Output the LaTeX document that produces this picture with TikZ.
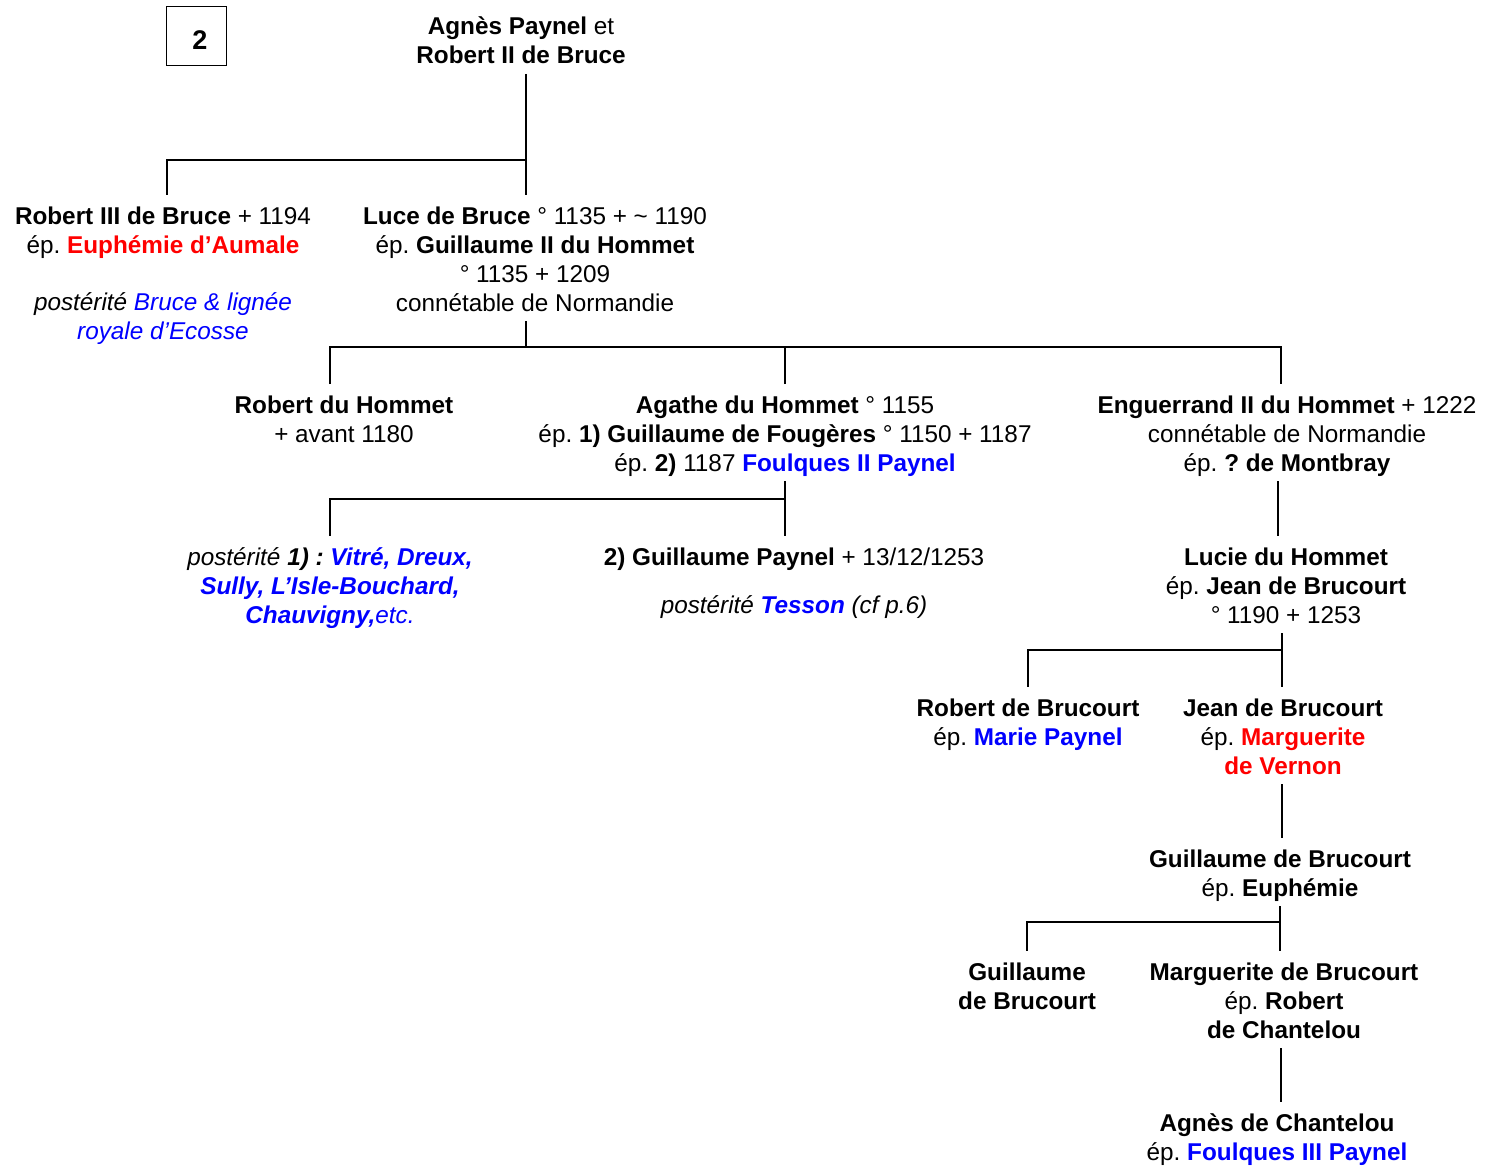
\documentclass[tikz,border=0pt]{standalone}
\usepackage{fontspec}
\setmainfont{Liberation Sans}
\frenchspacing
\newcommand{\topst}{\rule{0pt}{25pt}}
\newcommand{\botst}{\rule[-6pt]{0pt}{6pt}}
\tikzset{
  person/.style={align=center, anchor=north, inner sep=0pt, outer sep=0pt, outer ysep=4pt,
    font=\fontsize{24.3}{29}\selectfont\frenchspacing},
  conn/.style={line width=2pt},
  numbox/.style={draw, line width=1pt, minimum width=60pt, minimum height=59pt, inner sep=0pt},
  numtext/.style={inner sep=0pt, font=\fontsize{27}{30}\selectfont\bfseries}
}
\begin{document}
\begin{tikzpicture}[x=1pt,y=-1pt]
\fill[white] (0,0) rectangle (1498,1166);
\useasboundingbox (0,0) rectangle (1498,1166);

\node[numbox] (num) at (196,36.5) {};
\node[numtext] (numtxt) at ([xshift=4pt,yshift=-4pt]num.center) {2};

\node[person] (root) at (521,6) {\topst\textbf{Agnès Paynel} et\\\textbf{Robert II de Bruce}\botst};
\node[person] (rob3) at (163,195) {\topst\textbf{Robert III de Bruce} + 1194\\ép. \textcolor{red}{\textbf{Euphémie d’Aumale}}\\[28pt]\textit{postérité \textcolor{blue}{Bruce \& lignée}}\\\textcolor{blue}{\textit{royale d’Ecosse}}\botst};
\node[person] (luce) at (535,195) {\topst\textbf{Luce de Bruce} ° 1135 + \textasciitilde{} 1190\\ép. \textbf{Guillaume II du Hommet}\\° 1135 + 1209\\connétable de Normandie\botst};
\node[person] (rhom) at (344,384) {\topst\textbf{Robert du Hommet}\\+ avant 1180\botst};
\node[person] (agathe) at (785,384) {\topst\textbf{Agathe du Hommet} ° 1155\\ép. \textbf{1) Guillaume de Fougères} ° 1150 + 1187\\ép. \textbf{2)} 1187 \textcolor{blue}{\textbf{Foulques II Paynel}}\botst};
\node[person] (engu) at (1287,384) {\topst\textbf{Enguerrand II du Hommet} + 1222\\connétable de Normandie\\ép. \textbf{? de Montbray}\botst};
\node[person] (post1) at (330,536) {\topst\textit{postérité \textbf{1) : \textcolor{blue}{Vitré, Dreux,}}}\\\textcolor{blue}{\textbf{\textit{Sully, L’Isle-Bouchard,}}}\\\textcolor{blue}{\textit{\textbf{Chauvigny,}etc.}}\botst};
\node[person] (gpay) at (794,536) {\topst\textbf{2) Guillaume Paynel} + 13/12/1253\\[19pt]\textit{postérité \textcolor{blue}{\textbf{Tesson}} (cf p.6)}\botst};
\node[person] (lucie) at (1286,536) {\topst\textbf{Lucie du Hommet}\\ép. \textbf{Jean de Brucourt}\\° 1190 + 1253\botst};
\node[person] (robb) at (1028,687) {\topst\textbf{Robert de Brucourt}\\ép. \textcolor{blue}{\textbf{Marie Paynel}}\botst};
\node[person] (jean) at (1283,687) {\topst\textbf{Jean de Brucourt}\\ép. \textcolor{red}{\textbf{Marguerite}}\\\textcolor{red}{\textbf{de Vernon}}\botst};
\node[person] (gdb) at (1280,838) {\topst\textbf{Guillaume de Brucourt}\\ép. \textbf{Euphémie}\botst};
\node[person] (guil) at (1027,951) {\topst\textbf{Guillaume}\\\textbf{de Brucourt}\botst};
\node[person] (marg) at (1284,951) {\topst\textbf{Marguerite de Brucourt}\\ép. \textbf{Robert}\\\textbf{de Chantelou}\botst};
\node[person] (agnes) at (1277,1102) {\topst\textbf{Agnès de Chantelou}\\ép. \textcolor{blue}{\textbf{Foulques III Paynel}}\botst};

\coordinate (j1) at (526,160);
\coordinate (j2) at (526,347);
\coordinate (j3) at (785,499);
\coordinate (j4) at (1282,650);
\coordinate (j5) at (1280,922);

\draw[conn] ([xshift=5pt]root.south) -- ([xshift=-9pt]luce.north);
\draw[conn] (j1) -| ([xshift=4pt]rob3.north);
\draw[conn] ([xshift=-9pt]luce.south) -- (j2);
\draw[conn] ([xshift=-14pt]rhom.north) |- (j2) -| ([xshift=-6pt]engu.north);
\draw[conn] (agathe.north) -- (agathe.north |- j2);
\draw[conn] (agathe.south) -- (agathe.south |- gpay.north);
\draw[conn] (j3) -| (post1.north);
\draw[conn] ([xshift=-9pt]engu.south) -- ([xshift=-8pt]lucie.north);
\draw[conn] ([xshift=-4pt]lucie.south) -- ([xshift=-1pt]jean.north);
\draw[conn] (j4) -| (robb.north);
\draw[conn] ([xshift=-1pt]jean.south) -- ([xshift=-1pt]jean.south |- gdb.north);
\draw[conn] (gdb.south) -- (gdb.south |- marg.north);
\draw[conn] (j5) -| (guil.north);
\draw[conn] ([xshift=-3pt]marg.south) -- ([xshift=-3pt]marg.south |- agnes.north);
\end{tikzpicture}
\end{document}
